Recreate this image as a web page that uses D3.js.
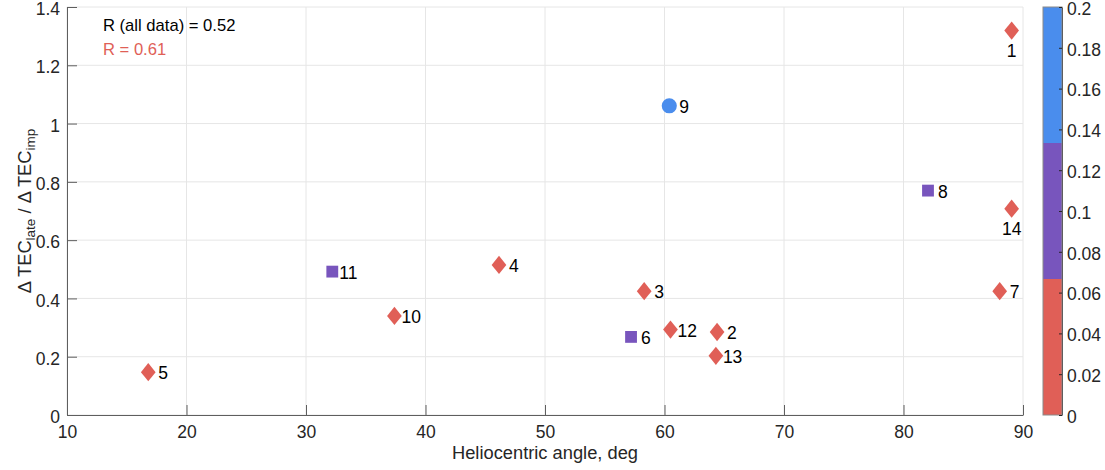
<!DOCTYPE html>
<html>
<head>
<meta charset="utf-8">
<script src="https://cdn.jsdelivr.net/npm/d3@7"></script>
<style>
  body { margin: 0; background: #fff; }
  svg text { font-family: "Liberation Sans", Arial, Helvetica, sans-serif; fill: #262626; }
</style>
</head>
<body>
<svg id="chart" width="1105" height="470"></svg>
<script>
// event ids, heliocentric angle (deg), TEC ratio, colour value
const ids = [1, 2, 3, 4, 5, 6, 7, 8, 9, 10, 11, 12, 13, 14];
const angle = [89.05, 64.4, 58.3, 46.15, 16.8, 57.2, 88.05, 82.05, 60.4, 37.4, 32.2, 60.5, 64.3, 89.05];
const ratio = [1.319, 0.285, 0.425, 0.515, 0.147, 0.268, 0.425, 0.77, 1.061, 0.34, 0.492, 0.293, 0.203, 0.708];
const colourVal = [0.03, 0.03, 0.03, 0.03, 0.03, 0.1, 0.03, 0.1, 0.17, 0.03, 0.1, 0.03, 0.03, 0.03];
const labelsBelow = [1, 14];

const xTicks = [10, 20, 30, 40, 50, 60, 70, 80, 90];
const yTicks = [0, 0.2, 0.4, 0.6, 0.8, 1, 1.2, 1.4];
const cTicks = [0, 0.02, 0.04, 0.06, 0.08, 0.1, 0.12, 0.14, 0.16, 0.18, 0.2];
const binEdges = [0, 0.2 / 3, 0.4 / 3, 0.2];
const binColours = ["#e05f57", "#7855bd", "#4a8ded"];

// matlab style diamond: a bit wider than d3's
const fatDiamond = {
  draw(ctx, size) {
    const h = Math.sqrt(size / 1.6), w = h * 0.8;
    ctx.moveTo(0, -h);
    ctx.lineTo(w, 0);
    ctx.lineTo(0, h);
    ctx.lineTo(-w, 0);
    ctx.closePath();
  }
};
const binShapes = [fatDiamond, d3.symbolSquare, d3.symbolCircle];
const symSize = [135, 140, 180];

const svg = d3.select("#chart");
const x = d3.scaleLinear().domain([10, 90]).range([67, 1023]);
const y = d3.scaleLinear().domain([0, 1.4]).range([415, 7]);
const bin = d3.scaleThreshold().domain(binEdges.slice(1, 3)).range([0, 1, 2]);

// grid
svg.append("g")
  .selectAll("line")
  .data(xTicks)
  .join("line")
  .attr("x1", d => x(d)).attr("x2", d => x(d))
  .attr("y1", y(0)).attr("y2", y(1.4))
  .attr("stroke", "#e6e6e6");
svg.append("g")
  .selectAll("line")
  .data(yTicks)
  .join("line")
  .attr("x1", x(10)).attr("x2", x(90))
  .attr("y1", d => y(d)).attr("y2", d => y(d))
  .attr("stroke", "#e6e6e6");

// axes
const xAxis = svg.append("g")
  .attr("transform", "translate(0," + y(0) + ")")
  .call(d3.axisBottom(x).tickValues(xTicks).tickSizeInner(-10).tickSizeOuter(0));
const yAxis = svg.append("g")
  .attr("transform", "translate(" + x(10) + ",0)")
  .call(d3.axisLeft(y).tickValues(yTicks).tickFormat(d3.format("~g")).tickSizeInner(-10).tickSizeOuter(0));
[xAxis, yAxis].forEach(a => {
  a.select(".domain").attr("stroke", "#5e5e5e");
  a.selectAll(".tick line").attr("stroke", "#5e5e5e");
  a.selectAll(".tick text").style("font-size", "17.5px").attr("fill", "#262626")
    .style("font-family", '"Liberation Sans", Arial, sans-serif');
});
yAxis.selectAll(".tick text").attr("x", -7).attr("dy", "0.44em");
xAxis.selectAll(".tick text").attr("y", 11);

// axis labels
svg.append("text")
  .attr("x", (x(10) + x(90)) / 2).attr("y", 459)
  .attr("text-anchor", "middle")
  .style("font-size", "18.3px")
  .text("Heliocentric angle, deg");

const yl = svg.append("text")
  .attr("transform", "translate(31," + (y(0) + y(1.4)) / 2 + ") rotate(-90)")
  .attr("text-anchor", "middle")
  .style("font-size", "18.3px");
yl.append("tspan").text("\u0394 TEC");
yl.append("tspan").attr("dy", 4).style("font-size", "13.5px").text("late");
yl.append("tspan").attr("dy", -4).text(" / \u0394 TEC");
yl.append("tspan").attr("dy", 4).style("font-size", "13.5px").text("imp");

// correlation notes
svg.append("text").attr("x", 103).attr("y", 31).style("font-size", "16.6px").style("fill", "#000").text("R (all data) = 0.52");
svg.append("text").attr("x", 103).attr("y", 55).style("font-size", "16.6px").style("fill", binColours[0]).text("R = 0.61");

// points
const pts = ids.map((id, i) => ({ id, a: angle[i], r: ratio[i], c: colourVal[i] }));
svg.append("g")
  .selectAll("path")
  .data(pts)
  .join("path")
  .attr("transform", d => "translate(" + x(d.a) + "," + y(d.r) + ")")
  .attr("d", d => d3.symbol().type(binShapes[bin(d.c)]).size(symSize[bin(d.c)])())
  .attr("fill", d => binColours[bin(d.c)]);

svg.append("g")
  .selectAll("text")
  .data(pts)
  .join("text")
  .attr("x", d => labelsBelow.includes(d.id) ? x(d.a) : x(d.a) + (d.id > 9 ? 7 : 10))
  .attr("y", d => labelsBelow.includes(d.id) ? y(d.r) + 26 : y(d.r) + 7)
  .attr("text-anchor", d => labelsBelow.includes(d.id) ? "middle" : "start")
  .style("font-size", "17.5px")
  .style("fill", "#000")
  .text(d => d.id);

// colour bar
const cy = d3.scaleLinear().domain([0, 0.2]).range([415, 7]);
const cbX = 1043, cbW = 19;
svg.append("g")
  .selectAll("rect")
  .data(binColours)
  .join("rect")
  .attr("x", cbX).attr("width", cbW)
  .attr("y", (d, i) => cy(binEdges[i + 1]))
  .attr("height", (d, i) => cy(binEdges[i]) - cy(binEdges[i + 1]))
  .attr("fill", d => d);
svg.append("rect")
  .attr("x", cbX).attr("y", cy(0.2)).attr("width", cbW).attr("height", cy(0) - cy(0.2))
  .attr("fill", "none").attr("stroke", "#8a8a8a").attr("stroke-width", 1);
const cAxis = svg.append("g")
  .attr("transform", "translate(" + (cbX + cbW) + ",0)")
  .call(d3.axisRight(cy).tickValues(cTicks).tickFormat(d3.format("~g")).tickSizeInner(-3).tickSizeOuter(0));
cAxis.select(".domain").attr("stroke", "#5e5e5e");
cAxis.selectAll(".tick line").attr("stroke", "#262626");
cAxis.selectAll(".tick text").style("font-size", "17.5px").attr("fill", "#262626").attr("x", 5).attr("dy", "0.42em")
  .style("font-family", '"Liberation Sans", Arial, sans-serif');
</script>
</body>
</html>
